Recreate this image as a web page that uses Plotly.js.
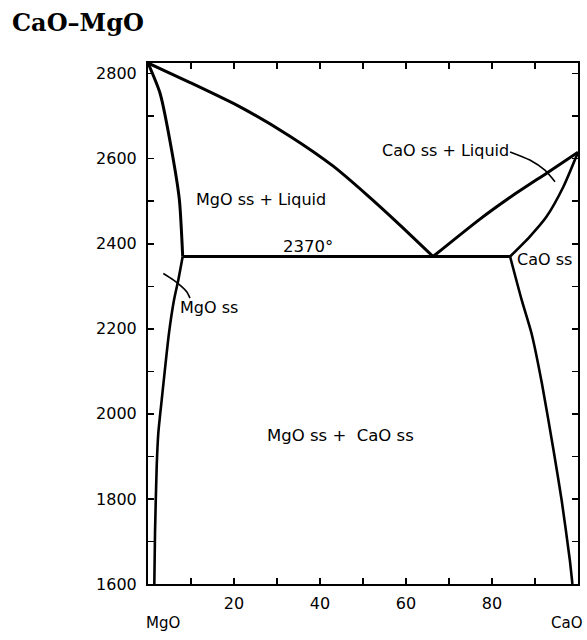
<!DOCTYPE html>
<html>
<head>
<meta charset="utf-8">
<script src="https://cdn.plot.ly/plotly-3.0.1.min.js"></script>
<style>
  html, body { margin: 0; padding: 0; background: #fff; }
  #chart { width: 587px; height: 640px; }
</style>
</head>
<body>
<div id="chart"></div>
<script>
// CaO–MgO phase diagram: composition (wt% CaO) vs temperature (°C)

// Liquidus on the MgO side, from the MgO melting point down to the eutectic
const mgoLiquidusX = [0, 9.8, 21.4, 33.0, 43.0, 50.9, 58.6, 66.3];
const mgoLiquidusY = [2825, 2779, 2722, 2653, 2583, 2515, 2444, 2370];

// Liquidus on the CaO side, from the eutectic up to the CaO melting point
const caoLiquidusX = [66.3, 77.2, 84.9, 92.7, 100];
const caoLiquidusY = [2370, 2458, 2514, 2566, 2615];

// Solidus of MgO solid solution
const mgoSolidusX = [0, 2.8, 5.5, 7.3, 8.07];
const mgoSolidusY = [2825, 2754, 2620, 2503, 2370];

// Solvus of MgO solid solution
const mgoSolvusX = [8.07, 7.05, 6.05, 4.88, 3.19, 2.4, 2.02, 1.63, 1.47];
const mgoSolvusY = [2370, 2315, 2268, 2190, 2033, 1955, 1876, 1719, 1600];

// Solidus of CaO solid solution
const caoSolidusX = [100, 96.6, 92.7, 88.8, 84.2];
const caoSolidusY = [2615, 2534, 2464, 2417, 2370];

// Solvus of CaO solid solution
const caoSolvusX = [84.2, 86.9, 89.2, 91.6, 94.3, 96.2, 98.1, 98.7];
const caoSolvusY = [2370, 2268, 2189, 2072, 1915, 1797, 1656, 1600];

// Eutectic isotherm
const eutecticX = [8.07, 84.2];
const eutecticY = [2370, 2370];

// Leader lines from field labels
const mgoLeaderX = [3.56, 5.88, 7.84, 9.0, 9.77];
const mgoLeaderY = [2330, 2315, 2299, 2287, 2272];
const caoLeaderX = [84.2, 88.8, 92.3, 94.65];
const caoLeaderY = [2616, 2597, 2573, 2546];

// Axis ticks
const xTickVals = [10, 20, 30, 40, 50, 60, 70, 80, 90];
const xTickText = ['', '20', '', '40', '', '60', '', '80', ''];
const yTickVals = [1600, 1700, 1800, 1900, 2000, 2100, 2200, 2300, 2400, 2500, 2600, 2700, 2800];
const yTickText = ['1600', '', '1800', '', '2000', '', '2200', '', '2400', '', '2600', '', '2800'];

// Field labels
const fieldLabels = [
  {text: 'MgO ss + Liquid', x: 26.3, y: 2503, size: 16},
  {text: '2370°', x: 37.2, y: 2393, size: 16.5},
  {text: 'CaO ss + Liquid', x: 69.3, y: 2620, size: 16},
  {text: 'CaO ss', x: 92.1, y: 2364, size: 16},
  {text: 'MgO ss', x: 14.2, y: 2249, size: 16},
  {text: 'MgO ss +  CaO ss', x: 44.7, y: 1950, size: 16.5}
];
const endLabels = [
  {text: 'MgO', x: 3.5},
  {text: 'CaO', x: 97.4}
];

function curve(x, y, w) {
  return {
    x: x, y: y, type: 'scatter', mode: 'lines',
    line: {color: '#000', width: w, shape: 'spline', smoothing: 0.6},
    hoverinfo: 'skip', showlegend: false, cliponaxis: false
  };
}

const traces = [
  curve(mgoLiquidusX, mgoLiquidusY, 3),
  curve(caoLiquidusX, caoLiquidusY, 3),
  curve(mgoSolidusX, mgoSolidusY, 3),
  curve(mgoSolvusX, mgoSolvusY, 2.6),
  curve(caoSolidusX, caoSolidusY, 2.6),
  curve(caoSolvusX, caoSolvusY, 2.6),
  curve(eutecticX, eutecticY, 2.8),
  curve(mgoLeaderX, mgoLeaderY, 1.6),
  curve(caoLeaderX, caoLeaderY, 1.6)
];

const labelFont = 'DejaVu Sans, Liberation Sans, sans-serif';

const annotations = fieldLabels.map(l => ({
  text: l.text, x: l.x, y: l.y, xref: 'x', yref: 'y',
  showarrow: false, xanchor: 'center', yanchor: 'middle',
  font: {family: labelFont, size: l.size, color: '#000'}
})).concat(endLabels.map(l => ({
  text: l.text, x: l.x, y: -0.075, xref: 'x', yref: 'paper',
  showarrow: false, xanchor: 'center', yanchor: 'middle',
  font: {family: labelFont, size: 15, color: '#000'}
})));

const axisCommon = {
  showgrid: false, zeroline: false,
  showline: true, linecolor: '#000', linewidth: 2, mirror: 'ticks',
  ticks: 'inside', ticklen: 6, tickwidth: 1.5, tickcolor: '#000',
  tickmode: 'array',
  tickfont: {family: labelFont, size: 16, color: '#000'}
};

const layout = {
  width: 587, height: 640,
  margin: {l: 148, r: 9, t: 63, b: 56},
  paper_bgcolor: '#fff', plot_bgcolor: '#fff',
  title: {
    text: 'CaO–MgO',
    xref: 'container', yref: 'container',
    x: 12 / 587, xanchor: 'left',
    y: 1 - 23 / 640, yanchor: 'middle',
    font: {family: 'DejaVu Serif, serif', size: 24, color: '#000', weight: 'bold'}
  },
  xaxis: Object.assign({}, axisCommon, {
    range: [0, 100], tickvals: xTickVals, ticktext: xTickText,
    ticklabelstandoff: 4
  }),
  yaxis: Object.assign({}, axisCommon, {
    range: [1600, 2825], tickvals: yTickVals, ticktext: yTickText,
    ticklabelstandoff: 6
  }),
  annotations: annotations,
  showlegend: false,
  hovermode: false
};

Plotly.newPlot('chart', traces, layout, {staticPlot: true, displayModeBar: false});
</script>
</body>
</html>
